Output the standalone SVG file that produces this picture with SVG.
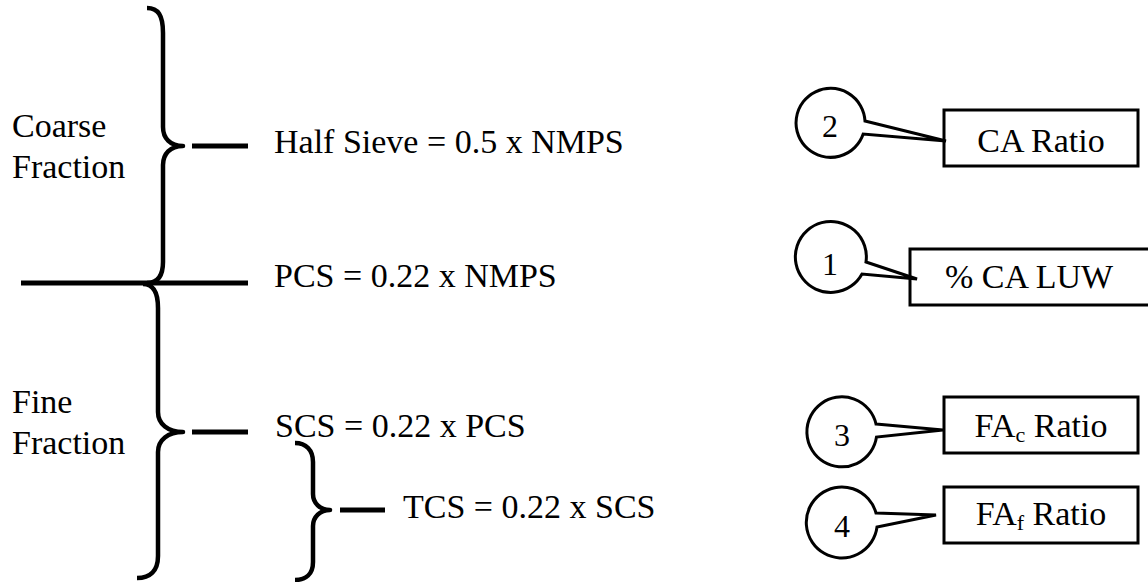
<svg xmlns="http://www.w3.org/2000/svg" width="1148" height="582" viewBox="0 0 1148 582">
<style>
text{font-family:"Liberation Serif","Times New Roman",serif;font-size:34px;fill:#000}
.brace{fill:none;stroke:#000;stroke-width:4.5;stroke-linejoin:round}
.dash{stroke:#000;stroke-width:5;fill:none}
.box{fill:#fff;stroke:#000;stroke-width:3}
.bub{fill:#fff;stroke:#000;stroke-width:3;stroke-linejoin:miter}
.num{font-size:32px;text-anchor:middle}
.sub{font-size:22px}
</style>
<rect width="1148" height="582" fill="#fff"/>
<g id="connectors">
<path class="brace" d="M147,8 C158,8 163,15 163,33 L163,127 C163,138 170,146 183,146 C170,146 163,154 163,165 L163,262 C163,276 158,283 147,283"/>
<path class="brace" d="M143,284 C153,284 158,292 158,308 L158,412 C158,424 168,432 183,432 C168,432 158,440 158,452 L158,556 C158,571 150,578 137,578"/>
<path class="brace" d="M295,443 C306,443 313,450 313,462 L313,494 C313,503 320,510 330,510 C320,510 313,517 313,526 L313,562 C313,574 306,580 295,580"/>
<line class="dash" x1="21" y1="283" x2="248" y2="283"/>
<line class="dash" x1="192" y1="146" x2="248" y2="146"/>
<line class="dash" x1="192" y1="432" x2="248" y2="432"/>
<line class="dash" x1="340" y1="510" x2="385" y2="510"/>
</g>
<g id="coarse-label"><text x="12" y="137">Coarse</text><text x="12" y="178">Fraction</text></g>
<g id="fine-label"><text x="12" y="413">Fine</text><text x="12" y="454">Fraction</text></g>
<g id="half-sieve"><text x="274" y="153">Half Sieve = 0.5 x NMPS</text></g>
<g id="pcs"><text x="274" y="287">PCS = 0.22 x NMPS</text></g>
<g id="scs"><text x="275" y="437">SCS = 0.22 x PCS</text></g>
<g id="tcs"><text x="403" y="518">TCS = 0.22 x SCS</text></g>
<g id="ca-ratio">
<rect class="box" x="944" y="110" width="194" height="56"/>
<text x="1041" y="152" text-anchor="middle">CA Ratio</text>
</g>
<g id="ca-luw">
<rect class="box" x="910" y="249" width="250" height="56"/>
<text x="945" y="288">% CA LUW</text>
</g>
<g id="fac-ratio">
<rect class="box" x="944" y="397" width="194" height="56"/>
<text x="1041" y="437" text-anchor="middle">FA<tspan class="sub" dy="5">c</tspan><tspan dy="-5"> Ratio</tspan></text>
</g>
<g id="faf-ratio">
<rect class="box" x="944" y="487" width="194" height="56"/>
<text x="1041" y="525" text-anchor="middle">FA<tspan class="sub" dy="5">f</tspan><tspan dy="-5"> Ratio</tspan></text>
</g>
<g id="callout-2">
<path class="bub" d="M865,121 L946,141 L863.2,134 A34.5,34.5 0 1 1 865,121 Z"/>
<text class="num" x="830" y="137">2</text>
</g>
<g id="callout-1">
<path class="bub" d="M866,262 L917,279 L862,274 A35.5,35.5 0 1 1 866,262 Z"/>
<text class="num" x="830" y="275">1</text>
</g>
<g id="callout-3">
<path class="bub" d="M876,424 L943,430 L876.5,437 A35,35 0 1 1 876,424 Z"/>
<text class="num" x="842" y="446">3</text>
</g>
<g id="callout-4">
<path class="bub" d="M876,513 L936,515 L877,527 A35.5,35.5 0 1 1 876,513 Z"/>
<text class="num" x="842" y="537">4</text>
</g>
</svg>
